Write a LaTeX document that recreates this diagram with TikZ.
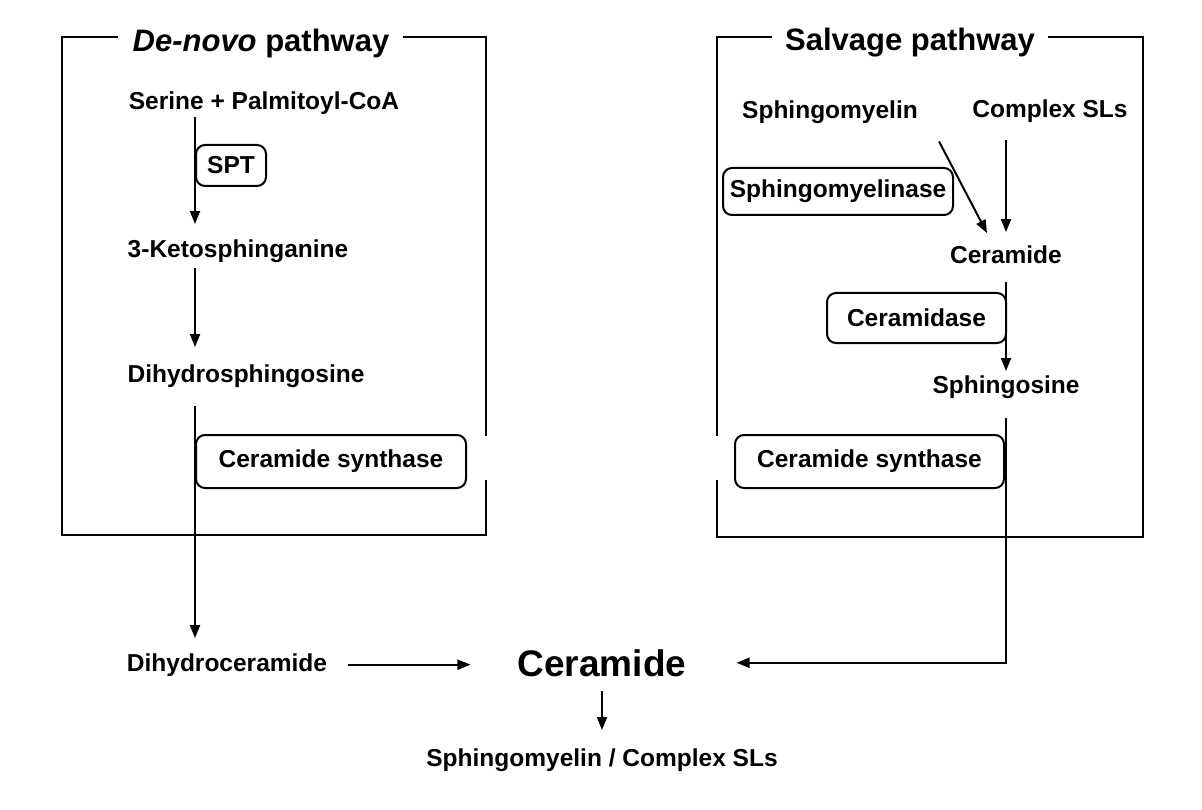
\documentclass[tikz,border=0pt]{standalone}
\usepackage{fontspec}
\setmainfont{Liberation Sans}
\usetikzlibrary{arrows.meta}
\begin{document}
\begin{tikzpicture}[x=1pt,y=-1pt,
  txt/.style={font=\fontsize{24.5}{28}\selectfont\bfseries, inner sep=0pt, anchor=base},
  ttl/.style={font=\fontsize{31}{36}\selectfont\bfseries, inner sep=0pt, anchor=base},
  big/.style={font=\fontsize{37}{42}\selectfont\bfseries, inner sep=0pt, anchor=base},
  enz/.style={font=\fontsize{24.5}{28}\selectfont\bfseries, draw, rounded corners=9pt, line width=2pt, inner sep=0pt},
  arr/.style={line width=2pt, -{Triangle[length=13pt,width=10pt]}},
  frm/.style={line width=2pt}]
\useasboundingbox (0,0) rectangle (1202,810);

% frames
\draw[frm] (118,37) -- (62,37) -- (62,535) -- (486,535) -- (486,480);
\draw[frm] (486,436) -- (486,37) -- (403,37);
\draw[frm] (772,37) -- (717,37) -- (717,436);
\draw[frm] (717,480) -- (717,537) -- (1143,537) -- (1143,37) -- (1048,37);

% titles
\node[ttl] (tdn) at (261,52) {\textit{De-novo} pathway};
\node[ttl] (tsv) at (910,51) {Salvage pathway};

% de novo
\node[txt] (ser) at (264,110) {Serine + Palmitoyl-CoA};
\node[txt] (keto) at (238,258) {3-Ketosphinganine};
\node[txt] (dhs) at (246,382) {Dihydrosphingosine};
\node[enz, minimum width=70pt, minimum height=41pt] (spt) at (231,165.5) {SPT};
\node[enz, minimum width=270pt, minimum height=53pt] (cs1) at (331,461.5) {Ceramide synthase};

% salvage
\node[txt] (sm) at (830,119) {Sphingomyelin};
\node[txt] (csl) at (1050,118) {Complex SLs};
\node[enz, minimum width=230pt, minimum height=47pt] (smase) at (838,191.5) {Sphingomyelinase};
\node[txt] (cer2) at (1006,264) {Ceramide};
\node[enz, minimum width=179pt, minimum height=50pt] (cdase) at (916.5,318) {Ceramidase};
\node[txt] (sph) at (1006,393) {Sphingosine};
\node[enz, minimum width=269pt, minimum height=53pt] (cs2) at (869.5,461.5) {Ceramide synthase};

% bottom
\node[txt] (dhc) at (227,671) {Dihydroceramide};
\node[big] (cer) at (602,676) {Ceramide};
\node[txt] (smcs) at (602,766) {Sphingomyelin / Complex SLs};

% de novo arrows
\draw[arr, shorten <=2pt, shorten >=16pt] (spt.west |- ser.south) -- (spt.west |- keto.north);
\draw[arr, shorten <=5pt, shorten >=17pt] (spt.west |- keto.south) -- (spt.west |- dhs.north);
\draw[arr, shorten <=19pt, shorten >=15pt] (spt.west |- dhs.south) -- (spt.west |- dhc.north);

% salvage arrows
\draw[arr] ([shift={(21,17)}]sm.south east) -- ([shift={(37,-13)}]cer2.north west);
\draw[arr, shorten <=17pt, shorten >=14pt] (cer2.north |- csl.south) -- (cer2.north);
\draw[arr, shorten <=18pt, shorten >=4pt] (cer2.south) -- (sph.north);
\draw[arr, shorten <=20pt, shorten >=50pt] (sph.south) -- (sph.south |- cer.east) -- (cer.east);

% bottom arrows
\draw[arr, shorten <=21pt, shorten >=47pt] (dhc.east) -- (dhc.east -| cer.west);
\draw[arr, shorten <=14pt, shorten >=18pt] (cer.south) -- (smcs.north);
\end{tikzpicture}
\end{document}
